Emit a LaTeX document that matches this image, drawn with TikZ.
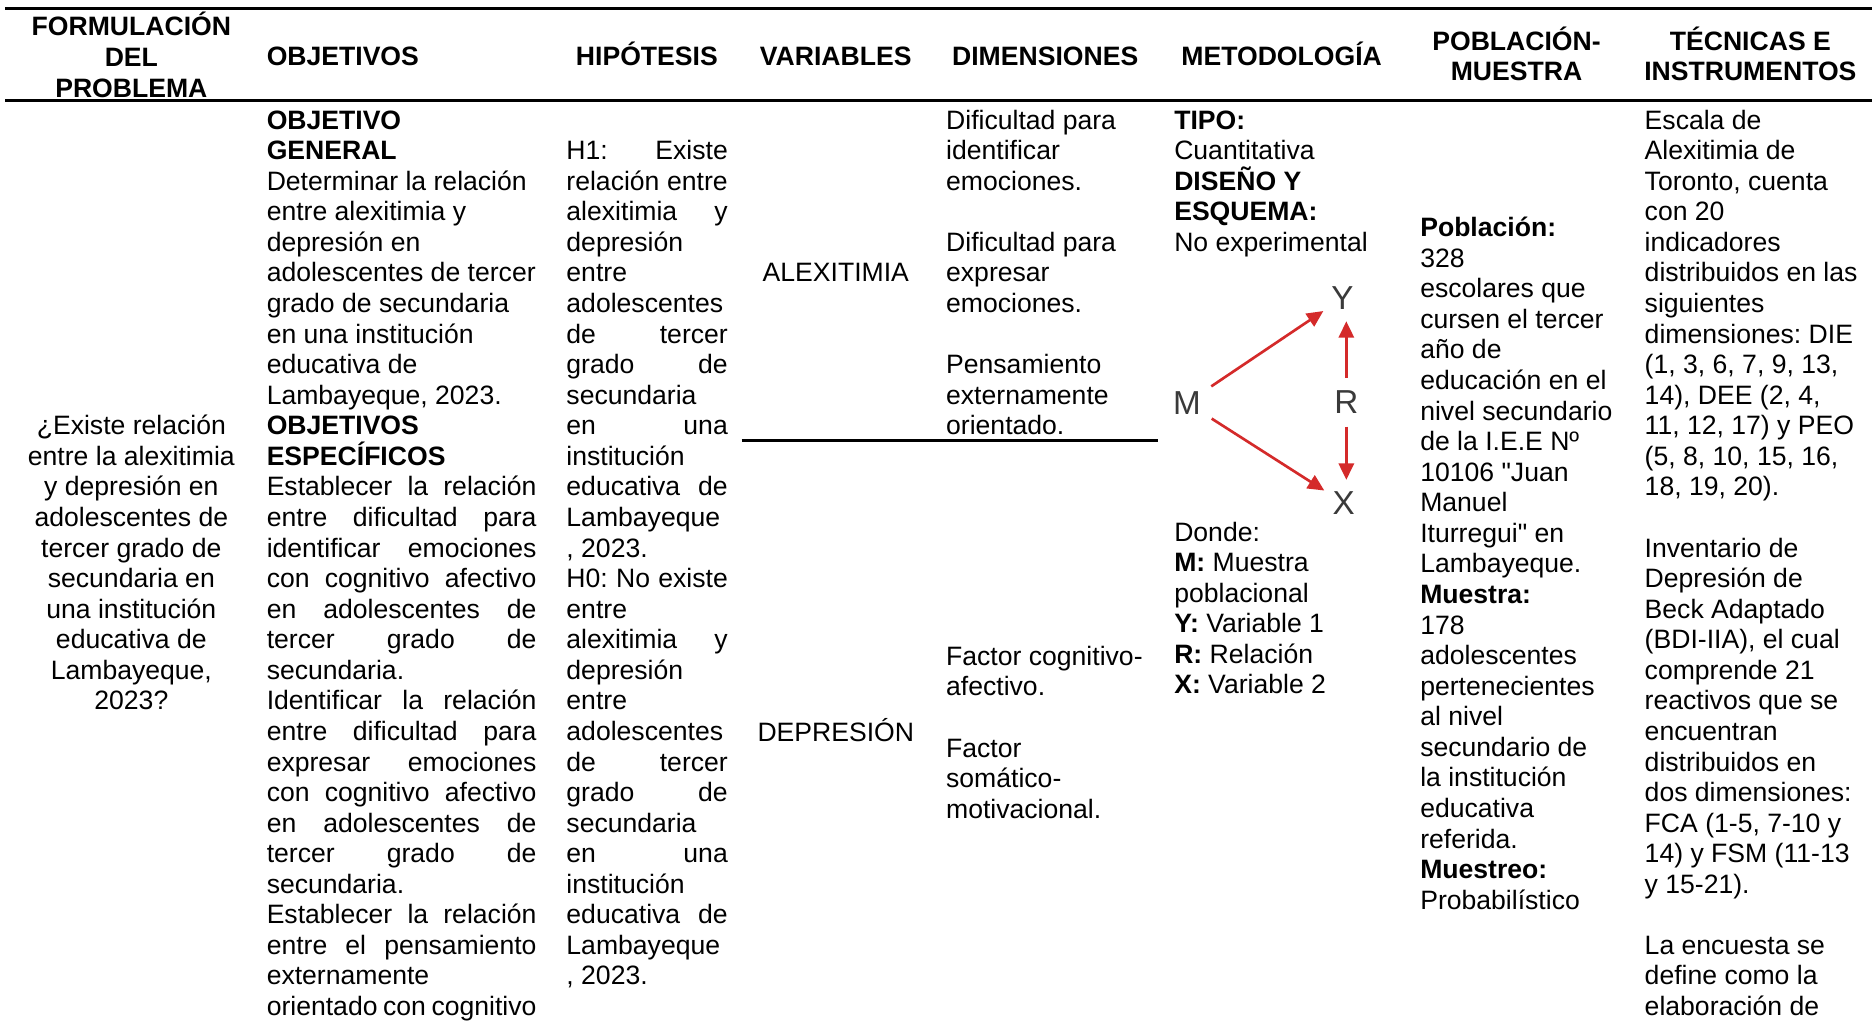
\documentclass[tikz,border=0pt]{standalone}
\usepackage{fontspec}
\setmainfont{Liberation Sans}[Ligatures=TeXOff]
\usetikzlibrary{arrows.meta, positioning}
\usepackage{xcolor}
\definecolor{esqred}{HTML}{D42A2A}
\definecolor{esqgray}{HTML}{3A3A3A}

\newlength{\jw}
\newcommand{\jl}[1]{\makebox[\jw][s]{\spaceskip=0pt\relax #1}}

\begin{document}
\begin{tikzpicture}[
    txt/.style={
        inner sep=0pt,
        anchor=base,
        font=\fontsize{12}{13.8}\selectfont\frenchspacing
    },
    cell/.style={
        txt,
        anchor=base west,
        align=flush left,
        text width=#1
    },
    jw/.style={
        execute at begin node={\setlength{\jw}{#1}}
    },
    head/.style={
        txt,
        font=\fontsize{12}{13.8}\selectfont\bfseries
    },
    rule/.style={
        line width=1.5pt
    },
    letter/.style={
        circle,
        inner sep=0pt,
        minimum size=#1,
        text=esqgray,
        font=\fontsize{15}{15}\selectfont
    },
    arrow/.style={
        -{Triangle[length=2.6mm, width=2.4mm]},
        line width=1.2pt,
        esqred
    }
]
\useasboundingbox (0,0) rectangle (29.7,-16.2);
\clip (0,0) rectangle (29.7,-16.2);

% Rules
\draw[rule] (0.08,-0.13) -- (29.7,-0.13);
\draw[rule] (0.08,-1.59) -- (29.7,-1.59);
\draw[line width=1pt] (11.765,-6.99) -- (18.377,-6.99);

% Header
\node[head, align=flush center, text width=3.6cm] (hForm) at (2.084,-0.569) {FORMULACIÓN\\DEL\\PROBLEMA};
\node[head, anchor=base west] (hObj) at (4.225,-1.043) {OBJETIVOS};
\node[head, anchor=base west] (hHip) at (9.131,-1.043) {HIPÓTESIS};
\node[head, anchor=base west] (hVar) at (12.049,-1.043) {VARIABLES};
\node[head, anchor=base west] (hDim) at (15.099,-1.043) {DIMENSIONES};
\node[head, anchor=base west] (hMet) at (18.737,-1.043) {METODOLOGÍA};
\node[head, align=flush center, text width=3.4cm] (hPob) at (24.06,-0.796) {POBLACIÓN-\\MUESTRA};
\node[head, align=flush center, text width=3.6cm] (hTec) at (27.77,-0.796) {TÉCNICAS E\\INSTRUMENTOS};

% Problem
\node[txt, align=flush center, text width=3.4cm] (prob) at (2.084,-6.897) {¿Existe relación\\entre la alexitimia\\y depresión en\\adolescentes de\\tercer grado de\\secundaria en\\una institución\\educativa de\\Lambayeque,\\2023?};

% Objectives
\node[cell=4.6cm, jw=4.28cm] (obj) at (4.225,-2.047) {\textbf{OBJETIVO}\\\textbf{GENERAL}\\Determinar la relación\\entre alexitimia y\\depresión en\\adolescentes de tercer\\grado de secundaria\\en una institución\\educativa de\\Lambayeque, 2023.\\\textbf{OBJETIVOS}\\\textbf{ESPECÍFICOS}\\\jl{Establecer la relación}\\\jl{entre dificultad para}\\\jl{identificar emociones}\\\jl{con cognitivo afectivo}\\\jl{en adolescentes de}\\\jl{tercer grado de}\\secundaria.\\\jl{Identificar la relación}\\\jl{entre dificultad para}\\\jl{expresar emociones}\\\jl{con cognitivo afectivo}\\\jl{en adolescentes de}\\\jl{tercer grado de}\\secundaria.\\\jl{Establecer la relación}\\\jl{entre el pensamiento}\\externamente\\\jl{orientado con cognitivo}};

% Hypotheses
\node[cell=2.8cm, jw=2.56cm] (hip) at (8.98,-2.532) {\jl{H1: Existe}\\\jl{relación entre}\\\jl{alexitimia y}\\depresión\\entre\\adolescentes\\\jl{de tercer}\\\jl{grado de}\\secundaria\\\jl{en una}\\institución\\\jl{educativa de}\\Lambayeque\\, 2023.\\\jl{H0: No existe}\\entre\\\jl{alexitimia y}\\depresión\\entre\\adolescentes\\\jl{de tercer}\\\jl{grado de}\\secundaria\\\jl{en una}\\institución\\\jl{educativa de}\\Lambayeque\\, 2023.};

% Variables
\node[txt] (varA) at (13.26,-4.472) {ALEXITIMIA};
\node[txt] (varD) at (13.26,-11.766) {DEPRESIÓN};

% Dimensions
\node[cell=3.3cm] (dimA) at (15.004,-2.047) {Dificultad para\\identificar\\emociones.};
\node[cell=3.3cm] (dimB) at (15.004,-3.987) {Dificultad para\\expresar\\emociones.};
\node[cell=3.3cm] (dimC) at (15.004,-5.927) {Pensamiento\\externamente\\orientado.};
\node[cell=3.3cm] (dimD) at (15.004,-10.554) {Factor cognitivo-\\afectivo.};
\node[cell=3.3cm] (dimE) at (15.004,-12.013) {Factor\\somático-\\motivacional.};

% Methodology
\node[cell=3.8cm] (tipo) at (18.623,-2.047) {\textbf{TIPO:}\\Cuantitativa\\\textbf{DISEÑO Y}\\\textbf{ESQUEMA:}\\No experimental};
\node[cell=3.8cm] (donde) at (18.623,-8.585) {Donde:\\\textbf{M:} Muestra\\poblacional\\\textbf{Y:} Variable 1\\\textbf{R:} Relación\\\textbf{X:} Variable 2};

% Scheme
\node[letter=0.92cm] (mM) at (18.83,-6.39) {M};
\node[letter=0.72cm] (mY) at (21.30,-4.73) {Y};
\node[letter=0.76cm] (mR) at (21.36,-6.38) {R};
\node[letter=0.72cm] (mX) at (21.32,-7.98) {X};
\draw[arrow] (mM) -- (mY);
\draw[arrow] (mM) -- (mX);
\draw[arrow] (mR.north) -- (mR.north |- mY.south);
\draw[arrow] (mR.south) -- (mR.south |- mX.north);

% Population
\node[cell=3.2cm] (pob) at (22.526,-3.754) {\textbf{Población:}\\328\\escolares que\\cursen el tercer\\año de\\educación en el\\nivel secundario\\de la I.E.E Nº\\10106 "Juan\\Manuel\\Iturregui" en\\Lambayeque.\\\textbf{Muestra:}\\178\\adolescentes\\pertenecientes\\al nivel\\secundario de\\la institución\\educativa\\referida.\\\textbf{Muestreo:}\\Probabilístico};

% Techniques
\node[cell=3.6cm] (tec) at (26.087,-2.047) {Escala de\\Alexitimia de\\Toronto, cuenta\\con 20\\indicadores\\distribuidos en las\\siguientes\\dimensiones: DIE\\(1, 3, 6, 7, 9, 13,\\14), DEE (2, 4,\\11, 12, 17) y PEO\\(5, 8, 10, 15, 16,\\18, 19, 20).\\[13.8pt]Inventario de\\Depresión de\\Beck Adaptado\\(BDI-IIA), el cual\\comprende 21\\reactivos que se\\encuentran\\distribuidos en\\dos dimensiones:\\FCA (1-5, 7-10 y\\14) y FSM (11-13\\y 15-21).\\[13.8pt]La encuesta se\\define como la\\elaboración de};

\end{tikzpicture}
\end{document}
